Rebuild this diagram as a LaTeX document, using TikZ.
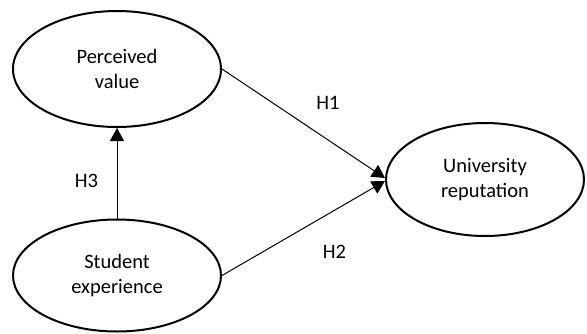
\documentclass[tikz,border=0pt]{standalone}
\usepackage{fontspec}
\setmainfont{Carlito}
\usetikzlibrary{shapes.geometric,arrows.meta,calc}
\begin{document}
\begin{tikzpicture}[x=1pt,y=-1pt,
  construct/.style={ellipse,draw,line width=2pt,inner sep=0pt,align=center,
    font=\fontsize{20.5}{25}\selectfont},
  path/.style={line width=1pt,-{Triangle[length=13pt,width=14pt]}},
  hyp/.style={inner sep=0pt,font=\fontsize{20.5}{25}\selectfont}]
  \useasboundingbox (0,0) rectangle (587,333);
  % latent constructs
  \node[construct,minimum width=208pt,minimum height=116pt] (pv) at (117,69) {Perceived\\value};
  \node[construct,minimum width=208pt,minimum height=112pt] (se) at (117,275.5) {Student\\experience};
  \node[construct,minimum width=198pt,minimum height=113pt] (ur) at (485,179.5) {University\\reputation};
  % hypothesised paths
  \coordinate (t1) at ($(ur.west)+(0,-1.5)$);
  \coordinate (t2) at ($(ur.west)+(0,1.5)$);
  \draw[path] (pv.east) -- (t1);
  \draw[path] (se.east) -- (t2);
  \draw[path] (se.north) -- (pv.south);
  % path labels
  \node[hyp] (h1) at (328,102.5) {H1};
  \node[hyp] (h2) at (334.5,252) {H2};
  \node[hyp] (h3) at (86.5,180.5) {H3};
\end{tikzpicture}
\end{document}
